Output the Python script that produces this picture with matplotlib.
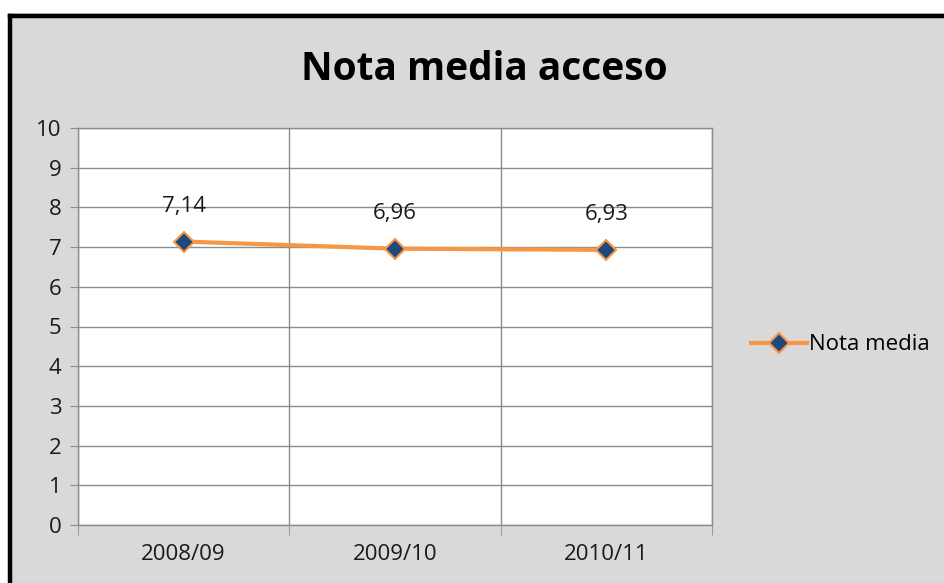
import matplotlib.pyplot as plt
from matplotlib.patches import Rectangle
from matplotlib.lines import Line2D

plt.rcParams['font.family'] = ['Open Sans', 'DejaVu Sans']

# data
cursos = ['2008/09', '2009/10', '2010/11']
nota_media = [7.14, 6.96, 6.93]
etiquetas = ['7,14', '6,96', '6,93']

W, H = 945, 583
fig = plt.figure(figsize=(W / 100, H / 100), dpi=100)
fig.patch.set_facecolor('white')

# gray chart area with thick black frame (top and left visible)
fig.patches.append(Rectangle((8 / W, 0), 1, (H - 13) / H, transform=fig.transFigure,
                             facecolor='#d9d9d9', edgecolor='none', zorder=-2))
fig.lines.append(Line2D([10 / W, 10 / W], [0, (H - 15.5) / H], transform=fig.transFigure,
                        color='black', lw=3.2, solid_capstyle='projecting', zorder=-1))
fig.lines.append(Line2D([10 / W, 1], [(H - 15.5) / H, (H - 15.5) / H], transform=fig.transFigure,
                        color='black', lw=3.2, solid_capstyle='projecting', zorder=-1))

ax = fig.add_axes([78 / W, 58 / H, (712 - 78) / W, (525 - 128) / H])
ax.set_zorder(1)
ax.set_facecolor('white')

x = list(range(len(cursos)))
ax.plot(x, nota_media, color='#f79646', lw=3, marker='D', markersize=10,
        markerfacecolor='#1f497d', markeredgecolor='#f79646', markeredgewidth=1.5,
        label='Nota media', zorder=5, clip_on=False)

for xi, v, t in zip(x, nota_media, etiquetas):
    ax.annotate(t, (xi, v), xytext=(0, 18), textcoords='offset points',
                ha='center', va='bottom', fontsize=16, color='#1a1a1a')

ax.set_xlim(-0.5, 2.5)
ax.set_ylim(0, 10)
ax.set_yticks(range(0, 11))
ax.set_xticks(x)
ax.set_xticklabels(cursos)
ax.set_xticks([-0.5, 0.5, 1.5, 2.5], minor=True)

ax.grid(axis='y', color='#8c8c8c', lw=1)
ax.grid(axis='x', which='minor', color='#8c8c8c', lw=1)
ax.set_axisbelow(True)

for s in ax.spines.values():
    s.set_color('#8c8c8c')
    s.set_linewidth(1)

ax.tick_params(axis='y', length=6, color='#8c8c8c', labelsize=16, labelcolor='#1a1a1a', pad=6)
ax.tick_params(axis='x', which='major', length=0, labelsize=16, labelcolor='#1a1a1a', pad=14)
ax.tick_params(axis='x', which='minor', length=7, color='#8c8c8c')

fig.text(484 / W, (H - 70) / H, 'Nota media acceso', ha='center', va='center',
         fontsize=28, fontweight='bold', color='black')

handle = Line2D([], [], color='#f79646', lw=3, marker='D', markersize=10,
                markerfacecolor='#1f497d', markeredgecolor='#f79646', markeredgewidth=1.5)
fig.legend([handle], ['Nota media'], loc='center left', bbox_to_anchor=(751 / W, (H - 345) / H),
           frameon=False, fontsize=16, handlelength=2.5, handletextpad=0.1, borderpad=0,
           borderaxespad=0)

fig.savefig('out.png', dpi=100)
